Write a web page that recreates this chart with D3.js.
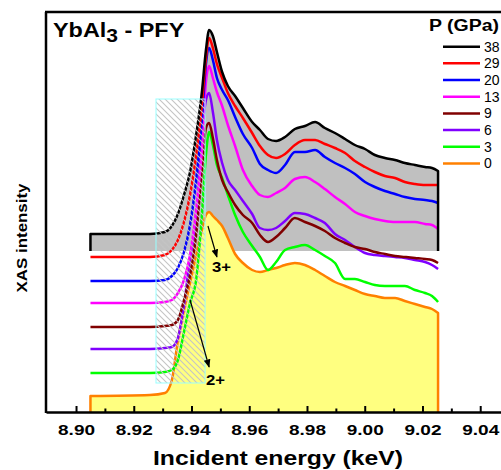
<!DOCTYPE html>
<html lang="en">
<head>
    <meta charset="UTF-8" />
    <title>YbAl3 - PFY</title>
    <script src="https://d3js.org/d3.v7.min.js"></script>
    <style>
        body { margin: 0; background: #fff; font-family: Arial, "Liberation Sans", sans-serif; }
        svg { display: block; }
    </style>
</head>
<body>
    <svg id="chart" width="501" height="470"></svg>
    <script>
        // energy grid (keV) shared by all spectra
        var energy = [8.905, 8.9256, 8.9308, 8.9332, 8.9353, 8.9374, 8.9395, 8.9416, 8.9436, 8.9450,
            8.9461, 8.9474, 8.9488, 8.9506, 8.9526, 8.9551, 8.9578, 8.9610, 8.9637, 8.9665,
            8.9693, 8.9724, 8.9758, 8.9793, 8.9828, 8.9862, 8.9897, 8.9932, 8.9966, 9.0001,
            9.0035, 9.0070, 9.0105, 9.0139, 9.0174, 9.0209, 9.0233, 9.0254];

        // normalised spectra (pre-edge = 0), one per pressure
        var p38 = [0, 0, 0.02, 0.08, 0.20, 0.39, 0.62, 0.99, 1.42, 1.84, 2.04, 1.98, 1.82, 1.62, 1.48, 1.38, 1.26, 1.12, 1.04, 0.95,
            0.93, 0.97, 1.05, 1.08, 1.12, 1.06, 1.01, 0.95, 0.89, 0.85, 0.79, 0.76, 0.74, 0.71, 0.69, 0.67, 0.66, 0.63];
        var p29 = [0, 0, 0.02, 0.07, 0.17, 0.35, 0.62, 1.02, 1.52, 1.99, 2.19, 2.09, 1.93, 1.79, 1.64, 1.51, 1.39, 1.24, 1.11, 1.02,
            0.99, 1.03, 1.12, 1.17, 1.17, 1.13, 1.09, 1.04, 0.96, 0.90, 0.85, 0.81, 0.79, 0.75, 0.73, 0.72, 0.72, 0.72];
        var p20 = [0, 0, 0.01, 0.05, 0.13, 0.29, 0.56, 1.01, 1.61, 2.17, 2.33, 2.21, 2.03, 1.91, 1.81, 1.64, 1.47, 1.33, 1.17, 1.11,
            1.08, 1.16, 1.29, 1.29, 1.31, 1.24, 1.18, 1.13, 1.07, 0.99, 0.94, 0.90, 0.87, 0.84, 0.82, 0.81, 0.80, 0.78];
        var p13 = [0, 0, 0.01, 0.03, 0.10, 0.23, 0.48, 0.93, 1.53, 2.21, 2.37, 2.25, 2.11, 1.97, 1.78, 1.57, 1.33, 1.17, 1.08, 1.06,
            1.10, 1.15, 1.24, 1.26, 1.21, 1.14, 1.06, 0.99, 0.91, 0.87, 0.84, 0.82, 0.81, 0.81, 0.81, 0.79, 0.78, 0.74];
        var p9 = [0, 0, 0.01, 0.02, 0.07, 0.27, 0.52, 0.92, 1.57, 1.99, 2.04, 1.89, 1.67, 1.47, 1.35, 1.22, 1.12, 1.04, 0.92, 0.85,
            0.90, 0.99, 1.09, 1.05, 1.01, 0.96, 0.89, 0.84, 0.80, 0.78, 0.75, 0.73, 0.71, 0.70, 0.69, 0.68, 0.67, 0.64];
        var p6 = [0, 0, 0.01, 0.02, 0.11, 0.44, 0.91, 1.29, 2.14, 2.49, 2.56, 2.37, 2.09, 1.86, 1.69, 1.59, 1.48, 1.35, 1.21, 1.19,
            1.21, 1.28, 1.36, 1.35, 1.31, 1.26, 1.15, 1.09, 1.02, 0.96, 0.94, 0.93, 0.92, 0.91, 0.89, 0.87, 0.84, 0.80];
        var p3 = [0, 0, 0.01, 0.03, 0.13, 0.41, 0.70, 0.93, 1.58, 2.18, 2.41, 2.28, 2.08, 1.95, 1.78, 1.58, 1.41, 1.27, 1.16, 1.03,
            1.11, 1.23, 1.26, 1.28, 1.23, 1.17, 1.10, 0.94, 0.94, 0.91, 0.88, 0.87, 0.87, 0.87, 0.83, 0.80, 0.77, 0.71];
        var p0 = [0, 0.01, 0.03, 0.16, 0.56, 0.86, 1.13, 1.41, 1.66, 1.81, 1.84, 1.80, 1.76, 1.70, 1.58, 1.42, 1.33, 1.26, 1.24, 1.26,
            1.28, 1.31, 1.33, 1.31, 1.26, 1.20, 1.14, 1.10, 1.06, 1.02, 1.00, 0.98, 0.98, 0.95, 0.92, 0.89, 0.87, 0.83];

        // legend / series order, vertical offsets and colours
        var pressures = ["38", "29", "20", "13", "9", "6", "3", "0"];
        var spectra = [p38, p29, p20, p13, p9, p6, p3, p0];
        var offsets = [1.78, 1.55, 1.31, 1.09, 0.85, 0.63, 0.39, 0.16];
        var colors = ["#000000", "#ff0000", "#0000ff", "#ff00ff", "#800000", "#8000ff", "#00ff00", "#ff8000"];

        // x axis ticks
        var majorTicks = [8.90, 8.92, 8.94, 8.96, 8.98, 9.00, 9.02, 9.04];
        var minorTicks = [8.91, 8.93, 8.95, 8.97, 8.99, 9.01, 9.03];

        var svg = d3.select("#chart");

        var x = d3.scaleLinear().domain([8.8896, 9.0472]).range([46, 501]);
        var y = d3.scaleLinear().domain([0, 4]).range([412, 12]);

        var grayBase = 1.61;   // bottom of the grey filled area (38 GPa)

        function pts(i) {
            return energy.map(function (e, k) { return [e, spectra[i][k] + offsets[i]]; });
        }

        var curve = d3.curveMonotoneX;
        var line = d3.line().x(d => x(d[0])).y(d => y(d[1])).curve(curve);

        // hatch pattern
        var defs = svg.append("defs");
        defs.append("pattern")
            .attr("id", "hatch")
            .attr("patternUnits", "userSpaceOnUse")
            .attr("width", 6).attr("height", 6)
            .append("path")
            .attr("d", "M0,0 L6,6 M-1,5 L1,7 M5,-1 L7,1")
            .attr("stroke", "#c4c4c4")
            .attr("stroke-width", 1.1);

        // filled areas: grey (38 GPa) and yellow (0 GPa)
        var topPts = pts(0), lowPts = pts(7);
        svg.append("path")
            .attr("d", d3.area().x(d => x(d[0])).y0(y(grayBase)).y1(d => y(d[1])).curve(curve)(topPts))
            .attr("fill", "#c0c0c0");
        svg.append("path")
            .attr("d", d3.area().x(d => x(d[0])).y0(y(0)).y1(d => y(d[1])).curve(curve)(lowPts))
            .attr("fill", "#ffff80");

        // spectra lines, lowest first
        for (var i = spectra.length - 1; i >= 0; i--) {
            var p = pts(i);
            var d = line(p);
            if (i === 0 || i === 7) {
                var b = i === 0 ? grayBase : 0;
                d = "M" + x(p[0][0]) + "," + y(b) + d.replace(/^M/, "L") +
                    "L" + x(p[p.length - 1][0]) + "," + y(b);
            }
            svg.append("path")
                .attr("d", d)
                .attr("fill", "none")
                .attr("stroke", colors[i])
                .attr("stroke-width", 2.5)
                .attr("stroke-linejoin", "round");
        }

        // hatched edge region
        var hx0 = 8.9277, hx1 = 8.9447, hy0 = 0.29, hy1 = 3.13;
        svg.append("rect")
            .attr("x", x(hx0)).attr("y", y(hy1))
            .attr("width", x(hx1) - x(hx0)).attr("height", y(hy0) - y(hy1))
            .attr("fill", "url(#hatch)")
            .attr("stroke", "#99ffff")
            .attr("stroke-width", 1);

        // arrows for 3+ and 2+
        defs.append("marker")
            .attr("id", "arrow")
            .attr("viewBox", "0 0 10 10")
            .attr("refX", 9).attr("refY", 5)
            .attr("markerWidth", 7).attr("markerHeight", 7)
            .attr("orient", "auto")
            .append("path")
            .attr("d", "M0,1 L10,5 L0,9 z")
            .attr("fill", "#000");

        var arrows = [
            { x1: 8.9457, y1: 1.86, x2: 8.9488, y2: 1.55, label: "3+", lx: 8.9471, ly: 1.40 },
            { x1: 8.9395, y1: 1.12, x2: 8.9461, y2: 0.45, label: "2+", lx: 8.9450, ly: 0.27 }
        ];
        arrows.forEach(function (a) {
            svg.append("line")
                .attr("x1", x(a.x1)).attr("y1", y(a.y1))
                .attr("x2", x(a.x2)).attr("y2", y(a.y2))
                .attr("stroke", "#000").attr("stroke-width", 1.2)
                .attr("marker-end", "url(#arrow)");
            svg.append("text")
                .attr("x", x(a.lx)).attr("y", y(a.ly))
                .attr("font-size", 15).attr("font-weight", "bold")
                .attr("textLength", 19).attr("lengthAdjust", "spacingAndGlyphs")
                .text(a.label);
        });

        // axes
        var xAxis = d3.axisBottom(x).tickValues(majorTicks)
            .tickFormat(d3.format(".2f")).tickSizeInner(-6).tickSizeOuter(0).tickPadding(12);
        var gx = svg.append("g").attr("transform", "translate(0,412)").call(xAxis);
        gx.select(".domain").attr("stroke-width", 2.5);
        gx.selectAll(".tick line").attr("stroke-width", 2);
        gx.selectAll("text").attr("font-size", 15).attr("font-weight", "bold")
            .attr("font-family", "Arial, 'Liberation Sans', sans-serif").attr("fill", "#000")
            .attr("textLength", 37).attr("lengthAdjust", "spacingAndGlyphs");

        svg.append("g").attr("transform", "translate(0,412)")
            .call(d3.axisBottom(x).tickValues(minorTicks).tickFormat("").tickSizeInner(-3.5).tickSizeOuter(0))
            .call(g => g.select(".domain").remove())
            .selectAll(".tick line").attr("stroke-width", 2);

        // frame: left and top
        svg.append("line").attr("x1", 46).attr("x2", 46).attr("y1", 12).attr("y2", 413)
            .attr("stroke", "#000").attr("stroke-width", 2.5);
        svg.append("line").attr("x1", 45).attr("x2", 501).attr("y1", 12).attr("y2", 12)
            .attr("stroke", "#000").attr("stroke-width", 2.5);

        // axis titles
        svg.append("text")
            .attr("x", 278).attr("y", 465)
            .attr("text-anchor", "middle")
            .attr("font-size", 20).attr("font-weight", "bold")
            .attr("textLength", 250).attr("lengthAdjust", "spacingAndGlyphs")
            .text("Incident energy (keV)");
        svg.append("text")
            .attr("transform", "translate(27,238) rotate(-90)")
            .attr("text-anchor", "middle")
            .attr("font-size", 15).attr("font-weight", "bold")
            .attr("textLength", 109).attr("lengthAdjust", "spacingAndGlyphs")
            .text("XAS intensity");

        // title with subscript (stretched horizontally like the original)
        var title = svg.append("text")
            .attr("transform", "translate(53,37) scale(1.17,1)")
            .attr("font-size", 20).attr("font-weight", "bold");
        title.append("tspan").text("YbAl");
        title.append("tspan").attr("dy", 5).attr("font-size", 18).text("3");
        title.append("tspan").attr("dy", -5).text(" - PFY");

        // legend
        svg.append("text")
            .attr("x", 429).attr("y", 31)
            .attr("font-size", 16).attr("font-weight", "bold")
            .attr("textLength", 70).attr("lengthAdjust", "spacingAndGlyphs")
            .text("P (GPa)");
        var legend = svg.selectAll(".legend")
            .data(pressures)
            .enter().append("g")
            .attr("class", "legend")
            .attr("transform", (d, i) => "translate(443," + (46.7 + i * 16.67) + ")");
        legend.append("line")
            .attr("x1", 0).attr("x2", 37)
            .attr("stroke", (d, i) => colors[i])
            .attr("stroke-width", 2.5);
        legend.append("text")
            .attr("x", 41).attr("y", 5)
            .attr("font-size", 14)
            .text(d => d);
    </script>
</body>
</html>
